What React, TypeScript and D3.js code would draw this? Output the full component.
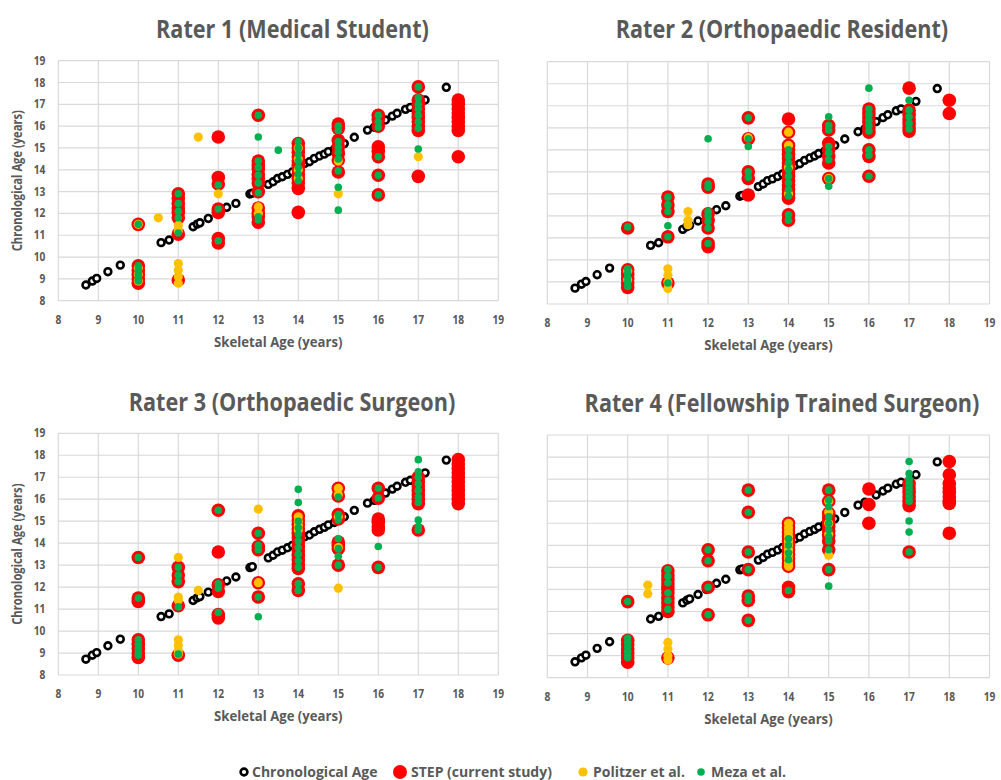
import React from "react";
import * as d3 from "d3";

type Col = [number, number[]];

// Chronological age (skeletal x, chronological y) – same patients in every panel
const chrono: [number, number][] = [
  [8.69, 8.72], [8.85, 8.9], [8.96, 9.02], [9.24, 9.33], [9.55, 9.63], [10.57, 10.66], [10.77, 10.78],
  [11.37, 11.39], [11.47, 11.51], [11.54, 11.57], [11.75, 11.77], [11.96, 12.0], [12.21, 12.28],
  [12.44, 12.46], [12.79, 12.89], [12.85, 12.93], [13.25, 13.33], [13.37, 13.45], [13.48, 13.6],
  [13.6, 13.68], [13.73, 13.79], [13.85, 13.9], [14.0, 14.05], [14.16, 14.29], [14.28, 14.37],
  [14.4, 14.52], [14.53, 14.63], [14.65, 14.72], [14.75, 14.83], [14.9, 14.94], [15.15, 15.2],
  [15.4, 15.49], [15.73, 15.82], [15.9, 15.95], [16.18, 16.28], [16.35, 16.46], [16.47, 16.59],
  [16.68, 16.77], [16.8, 16.86], [17.17, 17.2], [17.7, 17.78],
];

// Rater 1
const r1Step: Col[] = [
  [10, [11.5, 9.6, 9.4, 9.2, 9.0, 8.8]],
  [11, [12.9, 12.7, 12.45, 12.25, 12.05, 11.8, 11.05, 8.95]],
  [12, [15.5, 13.65, 13.35, 12.2, 12.05, 10.85, 10.65]],
  [13, [16.5, 14.4, 14.2, 14.05, 13.8, 13.6, 13.4, 13.0, 12.25, 12.0, 11.85, 11.6]],
  [14, [15.2, 15.0, 14.8, 14.6, 14.4, 14.2, 14.0, 13.8, 13.6, 13.4, 13.15, 12.05]],
  [15, [16.1, 15.9, 15.35, 15.05, 14.75, 14.45, 13.9]],
  [16, [16.5, 16.3, 16.0, 15.05, 14.85, 14.6, 13.75, 12.85]],
  [17, [17.8, 17.2, 17.0, 16.8, 16.6, 16.4, 16.2, 16.0, 15.8, 13.7]],
  [18, [17.2, 17.0, 16.8, 16.6, 16.4, 16.2, 16.0, 15.8, 14.6]],
];
const r1Pol: Col[] = [
  [10, [11.5, 9.5, 9.2, 8.9]],
  [10.5, [11.8]],
  [11, [11.45, 11.2, 9.7, 9.4, 9.1, 8.8]],
  [11.5, [15.5]],
  [12, [12.9]],
  [13, [12.3, 12.0]],
  [14, [15.0, 14.5, 14.0, 13.6]],
  [15, [14.4, 12.9]],
  [17, [14.6]],
];
const r1Meza: Col[] = [
  [10, [11.5, 9.6, 9.4, 9.2, 9.0, 8.9]],
  [11, [12.9, 12.45, 12.1, 11.8, 11.1]],
  [12, [13.3, 12.2, 10.75]],
  [13, [16.5, 15.5, 14.4, 14.1, 13.75, 13.4, 12.95, 11.85, 11.7]],
  [13.5, [14.9]],
  [14, [15.3, 15.0, 14.7, 14.4, 14.1, 13.8, 13.5]],
  [15, [16.0, 15.8, 15.3, 15.05, 14.8, 14.5, 13.95, 13.2, 12.15]],
  [16, [16.5, 16.2, 15.95, 14.6, 13.75, 12.85]],
  [17, [17.8, 17.3, 17.0, 16.8, 16.5, 16.2, 15.9, 14.95]],
];

// Rater 2
const r2Step: Col[] = [
  [10, [11.45, 9.55, 9.35, 9.15, 8.95, 8.75]],
  [11, [12.85, 12.5, 12.2, 11.05, 8.95]],
  [12, [13.45, 13.3, 12.1, 11.8, 11.45, 10.75, 10.6]],
  [13, [16.45, 15.5, 14.0, 13.7, 12.95]],
  [14, [16.4, 15.8, 15.2, 15.0, 14.8, 14.6, 14.4, 14.2, 14.0, 13.8, 13.6, 13.4, 13.2, 13.0, 12.8, 12.05, 11.8]],
  [15, [16.1, 15.9, 15.3, 15.0, 14.7, 14.4, 13.7]],
  [16, [16.85, 16.65, 16.45, 16.25, 16.0, 15.8, 15.0, 14.7, 13.8]],
  [17, [17.8, 16.8, 16.6, 16.4, 16.2, 16.0, 15.85]],
  [18, [17.25, 16.65]],
];
const r2Pol: Col[] = [
  [10, [9.5, 9.1]],
  [11, [9.6, 9.3, 9.0, 8.7]],
  [11.5, [12.2, 11.8, 11.6]],
  [13, [15.55]],
  [14, [15.8, 15.2, 14.2, 13.0]],
  [15, [13.7]],
];
const r2Meza: Col[] = [
  [10, [11.5, 9.6, 9.4, 9.2, 9.0, 8.8]],
  [11, [12.85, 12.5, 12.2, 11.55, 11.05, 8.95]],
  [12, [15.5, 13.45, 13.3, 12.2, 12.0, 11.75, 11.45, 10.75]],
  [13, [16.45, 15.5, 15.15, 14.0, 13.75]],
  [14, [15.0, 14.7, 14.4, 14.1, 13.8, 13.5, 13.2, 12.9, 12.05, 11.8]],
  [15, [16.5, 16.1, 15.9, 15.15, 14.85, 14.55, 13.7, 13.35]],
  [16, [17.8, 16.85, 16.6, 16.35, 16.1, 15.85, 15.0, 14.75, 13.8]],
  [17, [17.25, 16.8, 16.5, 16.2, 15.95]],
];

// Rater 3
const r3Step: Col[] = [
  [10, [13.35, 11.5, 11.35, 9.6, 9.4, 9.2, 9.0, 8.8]],
  [11, [12.9, 12.55, 12.25, 11.15, 8.9]],
  [12, [15.5, 13.6, 12.1, 11.8, 10.75, 10.6]],
  [13, [14.45, 13.85, 13.7, 12.2, 11.55]],
  [14, [15.25, 15.05, 14.85, 14.65, 14.45, 14.25, 14.05, 13.85, 13.65, 13.45, 13.25, 13.05, 12.85, 12.15, 11.85]],
  [15, [16.5, 16.15, 15.3, 15.1, 14.05, 13.9, 13.75, 13.0]],
  [16, [16.5, 16.05, 15.1, 14.95, 14.75, 14.6, 12.9]],
  [17, [17.0, 16.8, 16.6, 16.4, 16.2, 16.0, 15.8, 14.6]],
  [18, [17.8, 17.6, 17.4, 17.2, 17.0, 16.8, 16.6, 16.4, 16.2, 16.0, 15.8]],
];
const r3Pol: Col[] = [
  [11, [13.35, 11.55, 11.4, 9.6, 9.35, 9.1, 8.95]],
  [11.5, [11.85]],
  [13, [15.55, 12.2]],
  [14, [15.2, 15.0, 14.8, 14.6]],
  [15, [16.5, 16.2, 15.2, 13.8, 11.95]],
];
const r3Meza: Col[] = [
  [10, [13.35, 11.5, 9.6, 9.4, 9.2, 9.0, 8.9]],
  [11, [12.9, 12.55, 12.25, 11.1, 8.95]],
  [12, [15.5, 12.15, 11.95, 10.85]],
  [13, [14.45, 13.9, 13.7, 11.55, 10.65]],
  [14, [16.45, 15.85, 15.0, 14.7, 14.4, 14.1, 13.8, 13.5, 13.2, 12.9, 12.15, 11.85]],
  [15, [16.1, 15.3, 15.05, 14.2, 13.75, 13.4, 13.0]],
  [16, [16.5, 16.05, 13.85, 12.9]],
  [17, [17.8, 17.25, 17.0, 16.7, 16.4, 16.1, 15.85, 15.05, 14.75, 14.6]],
];

// Rater 4
const r4Step: Col[] = [
  [10, [11.45, 9.7, 9.5, 9.3, 9.1, 8.9, 8.7]],
  [11, [12.85, 12.65, 12.45, 12.25, 12.05, 11.85, 11.6, 11.4, 11.2, 11.0, 8.9]],
  [12, [13.8, 13.3, 12.1, 10.85]],
  [13, [16.5, 15.5, 13.7, 12.9, 11.7, 11.5, 10.6]],
  [14, [15.0, 14.8, 14.6, 14.4, 14.2, 14.0, 13.8, 13.6, 13.4, 13.2, 13.05, 12.1, 11.9]],
  [15, [16.5, 16.0, 15.45, 15.25, 15.05, 14.85, 14.65, 14.45, 14.2, 13.8, 12.9]],
  [16, [16.55, 15.85, 15.0]],
  [17, [16.8, 16.6, 16.4, 16.2, 16.0, 15.8, 13.7]],
  [18, [17.8, 17.2, 16.8, 16.6, 16.4, 16.2, 16.0, 15.9, 14.55]],
];
const r4Pol: Col[] = [
  [10.5, [12.2, 11.8]],
  [11, [9.6, 9.3, 9.0, 8.8]],
  [14, [15.0, 14.8, 14.6, 14.4, 14.2, 14.0, 13.8, 13.6, 13.4, 13.2, 13.05]],
  [15, [16.0, 15.5, 15.0, 14.5, 13.55]],
];
const r4Meza: Col[] = [
  [10, [11.45, 9.8, 9.6, 9.4, 9.2, 9.0, 8.9]],
  [11, [12.9, 12.6, 12.3, 11.85, 11.5, 11.1]],
  [12, [13.8, 13.3, 12.1, 10.85]],
  [13, [16.5, 15.5, 13.7, 12.9, 11.7, 11.5, 10.6]],
  [14, [14.3, 14.0, 13.65, 13.35, 11.95]],
  [15, [16.5, 16.05, 15.75, 15.3, 15.0, 14.7, 14.4, 14.2, 13.8, 12.9, 12.15]],
  [17, [17.8, 17.25, 17.0, 16.8, 16.6, 16.4, 16.2, 16.0, 15.1, 14.6, 13.7]],
];

const ticks = [8, 9, 10, 11, 12, 13, 14, 15, 16, 17, 18, 19];
const titles = [
  "Rater 1 (Medical Student)",
  "Rater 2 (Orthopaedic Resident)",
  "Rater 3 (Orthopaedic Surgeon)",
  "Rater 4 (Fellowship Trained Surgeon)",
];
const legendLabels = ["Chronological Age", "STEP (current study)", "Politzer et al.", "Meza et al."];

const FONT = "'Open Sans', sans-serif";
const TEXT = "#595959";
const C_RED = "#FF0000";
const C_YEL = "#FFC000";
const C_GRN = "#00B050";

function T(props: { x: number; y: number; size: number; sx: number; anchor?: string; rot?: boolean; children: any; fill?: string }) {
  const { x, y, size, sx, anchor = "middle", rot = false, children, fill = TEXT } = props;
  return (
    <text
      transform={`translate(${x},${y})${rot ? " rotate(-90)" : ""} scale(${sx},1)`}
      textAnchor={anchor}
      fontFamily={FONT}
      fontWeight={700}
      fontSize={size}
      fill={fill}
    >
      {children}
    </text>
  );
}

type PanelCfg = {
  title: string;
  left: number;
  right: number;
  top: number;
  bottom: number;
  yLabels: boolean;
  titleX: number;
  titleY: number;
  step: Col[];
  pol: Col[];
  meza: Col[];
};

const flat = (cols: Col[]) => cols.flatMap(([x, ys]) => ys.map((y) => [x, y] as [number, number]));

function Panel({ p }: { p: PanelCfg }) {
  const x = d3.scaleLinear().domain([8, 19]).range([p.left, p.right]);
  const y = d3.scaleLinear().domain([8, 19]).range([p.bottom, p.top]);
  return (
    <g>
      <T x={p.titleX} y={p.titleY} size={25} sx={0.865}>{p.title}</T>
      {ticks.map((t) => (
        <line key={"v" + t} x1={x(t)} x2={x(t)} y1={p.top} y2={p.bottom} stroke="#d9d9d9" strokeWidth={1.2} />
      ))}
      {ticks.map((t) => (
        <line key={"h" + t} x1={p.left} x2={p.right} y1={y(t)} y2={y(t)} stroke="#d9d9d9" strokeWidth={1.2} />
      ))}
      {ticks.map((t) => (
        <T key={"xt" + t} x={x(t)} y={p.bottom + 23} size={12} sx={0.85}>{t}</T>
      ))}
      {p.yLabels &&
        ticks.map((t) => (
          <T key={"yt" + t} x={p.left - 13} y={y(t) + 4} size={12} sx={0.85} anchor="end">{t}</T>
        ))}
      <T x={(p.left + p.right) / 2} y={p.bottom + 46} size={13.5} sx={0.975}>Skeletal Age (years)</T>
      {p.yLabels && (
        <T x={22} y={(p.top + p.bottom) / 2} size={13.5} sx={0.83} rot>Chronological Age (years)</T>
      )}
      {chrono.map(([a, b], i) => (
        <circle key={"c" + i} cx={x(a)} cy={y(b)} r={3.4} fill="#fff" stroke="#000" strokeWidth={2.6} />
      ))}
      {flat(p.step).map(([a, b], i) => (
        <circle key={"s" + i} cx={x(a)} cy={y(b)} r={6.8} fill={C_RED} />
      ))}
      {flat(p.pol).map(([a, b], i) => (
        <circle key={"p" + i} cx={x(a)} cy={y(b)} r={4.6} fill={C_YEL} />
      ))}
      {flat(p.meza).map(([a, b], i) => (
        <circle key={"m" + i} cx={x(a)} cy={y(b)} r={3.8} fill={C_GRN} />
      ))}
    </g>
  );
}

const panels: PanelCfg[] = [
  { title: titles[0], left: 58.3, right: 498.3, top: 60.7, bottom: 300.7, yLabels: true, titleX: 292.5, titleY: 38, step: r1Step, pol: r1Pol, meza: r1Meza },
  { title: titles[1], left: 547.3, right: 989.5, top: 61.7, bottom: 304, yLabels: false, titleX: 782, titleY: 38, step: r2Step, pol: r2Pol, meza: r2Meza },
  { title: titles[2], left: 58.3, right: 498.3, top: 433.3, bottom: 675, yLabels: true, titleX: 292, titleY: 411, step: r3Step, pol: r3Pol, meza: r3Meza },
  { title: titles[3], left: 547.3, right: 989.5, top: 435, bottom: 677.7, yLabels: false, titleX: 782, titleY: 412, step: r4Step, pol: r4Pol, meza: r4Meza },
];

export default function App() {
  const ly = 772;
  const LS = 14;
  const LSX = 1.0;
  return (
    <svg width={1001} height={780} style={{ position: "absolute", left: 0, top: 0, background: "#fff" }}>
      <rect width={1001} height={780} fill="#fff" />
      {panels.map((p, i) => (
        <Panel key={i} p={p} />
      ))}
      <g>
        <circle cx={244} cy={ly} r={3.4} fill="#fff" stroke="#000" strokeWidth={2.6} />
        <T x={252} y={ly + 5} size={LS} sx={LSX} anchor="start">{legendLabels[0]}</T>
        <circle cx={400} cy={ly} r={7} fill={C_RED} />
        <T x={411} y={ly + 5} size={LS} sx={LSX} anchor="start">{legendLabels[1]}</T>
        <circle cx={583} cy={ly} r={4.6} fill={C_YEL} />
        <T x={593} y={ly + 5} size={LS} sx={LSX} anchor="start">{legendLabels[2]}</T>
        <circle cx={701} cy={ly} r={3.8} fill={C_GRN} />
        <T x={711} y={ly + 5} size={LS} sx={LSX} anchor="start">{legendLabels[3]}</T>
      </g>
    </svg>
  );
}
